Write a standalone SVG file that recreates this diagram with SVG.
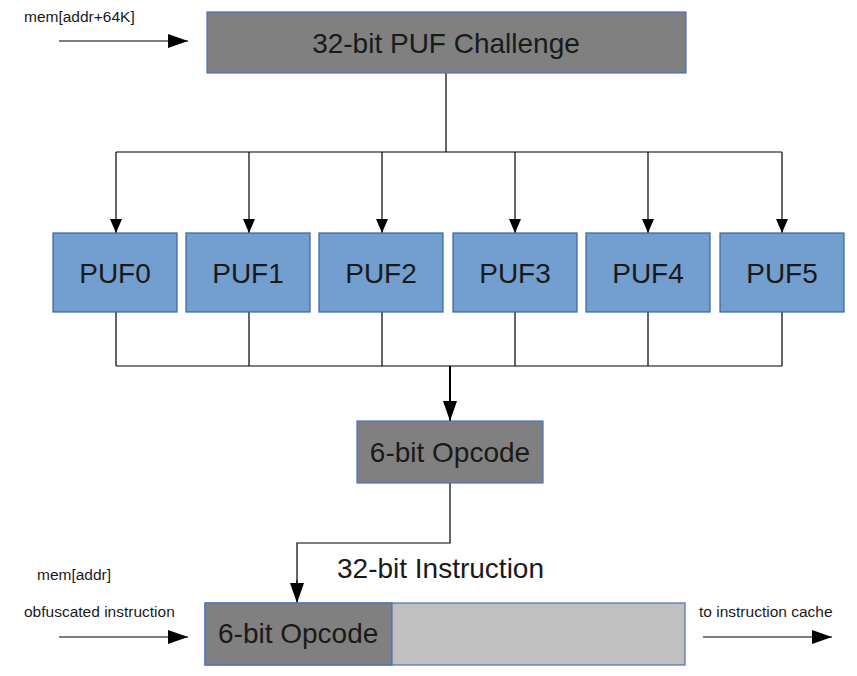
<svg xmlns="http://www.w3.org/2000/svg" width="857" height="676" viewBox="0 0 857 676">
<style>
.dark{fill:#808080;stroke:#4a72b8;stroke-width:1.2}
.light{fill:#c0c0c0;stroke:#4a72b8;stroke-width:1.2}
.puf{fill:#729fcf;stroke:#3465a4;stroke-width:1.2}
.big{font-family:"Liberation Sans",Arial,sans-serif;font-size:28px;fill:#1a1a1a}
.small{font-family:"Liberation Sans",Arial,sans-serif;font-size:15.5px;fill:#1a1a1a}
.ln{fill:none;stroke:#000;stroke-width:1.2}
</style>
<defs>
<marker id="ah" markerUnits="userSpaceOnUse" markerWidth="22" markerHeight="14" refX="20" refY="7" orient="auto">
<path d="M0,0 L20,7 L0,14 Z" fill="#000"/>
</marker>
<marker id="av" markerUnits="userSpaceOnUse" markerWidth="16" markerHeight="14" refX="14" refY="6" orient="auto">
<path d="M0,0 L14,6 L0,12 Z" fill="#000"/>
</marker>
<marker id="ab" markerUnits="userSpaceOnUse" markerWidth="22" markerHeight="16" refX="20" refY="7" orient="auto">
<path d="M0,0 L20,7 L0,14 Z" fill="#000"/>
</marker>
</defs>
<g id="connectors">
<line class="ln" x1="59" y1="41" x2="188" y2="41" marker-end="url(#ah)"/>
<path class="ln" d="M446,73 V152"/>
<path class="ln" d="M116,152 H782"/>
<line class="ln" x1="116" y1="152" x2="116" y2="233" marker-end="url(#av)"/>
<line class="ln" x1="249" y1="152" x2="249" y2="233" marker-end="url(#av)"/>
<line class="ln" x1="382" y1="152" x2="382" y2="233" marker-end="url(#av)"/>
<line class="ln" x1="515" y1="152" x2="515" y2="233" marker-end="url(#av)"/>
<line class="ln" x1="648" y1="152" x2="648" y2="233" marker-end="url(#av)"/>
<line class="ln" x1="782" y1="152" x2="782" y2="233" marker-end="url(#av)"/>
<path class="ln" d="M116,312 V366 M249,312 V366 M382,312 V366 M515,312 V366 M648,312 V366 M782,312 V366 M116,366 H782"/>
<line x1="450" y1="366" x2="450" y2="421" stroke="#000" stroke-width="2" marker-end="url(#ab)"/>
<path class="ln" d="M450,483 V543 H297 V585"/>
<line class="ln" x1="297" y1="580" x2="297" y2="603" marker-end="url(#ab)"/>
<line class="ln" x1="59" y1="637" x2="188" y2="637" marker-end="url(#ah)"/>
<line class="ln" x1="703" y1="637" x2="832" y2="637" marker-end="url(#ah)"/>
</g>
<g id="challenge">
<rect class="dark" x="207" y="12" width="479" height="61"/>
<text class="big" x="446" y="53" text-anchor="middle">32-bit PUF Challenge</text>
</g>
<g id="puf0"><rect class="puf" x="53" y="233" width="124" height="79"/><text class="big" x="115" y="283" text-anchor="middle">PUF0</text></g>
<g id="puf1"><rect class="puf" x="186" y="233" width="124" height="79"/><text class="big" x="248" y="283" text-anchor="middle">PUF1</text></g>
<g id="puf2"><rect class="puf" x="319" y="233" width="124" height="79"/><text class="big" x="381" y="283" text-anchor="middle">PUF2</text></g>
<g id="puf3"><rect class="puf" x="453" y="233" width="124" height="79"/><text class="big" x="515" y="283" text-anchor="middle">PUF3</text></g>
<g id="puf4"><rect class="puf" x="586" y="233" width="124" height="79"/><text class="big" x="648" y="283" text-anchor="middle">PUF4</text></g>
<g id="puf5"><rect class="puf" x="720" y="233" width="124" height="79"/><text class="big" x="782" y="283" text-anchor="middle">PUF5</text></g>
<g id="opcode">
<rect class="dark" x="357" y="421" width="186" height="62"/>
<text class="big" x="450" y="462" text-anchor="middle">6-bit Opcode</text>
</g>
<g id="instruction">
<rect class="light" x="205" y="603" width="480" height="62"/>
<rect class="dark" x="205" y="603" width="187" height="62"/>
<text class="big" x="218" y="643">6-bit Opcode</text>
</g>
<g id="labels">
<text class="small" x="24" y="22">mem[addr+64K]</text>
<text class="big" x="337" y="578">32-bit Instruction</text>
<text class="small" x="37" y="580">mem[addr]</text>
<text class="small" x="24" y="617">obfuscated instruction</text>
<text class="small" x="699" y="617">to instruction cache</text>
</g>
</svg>
